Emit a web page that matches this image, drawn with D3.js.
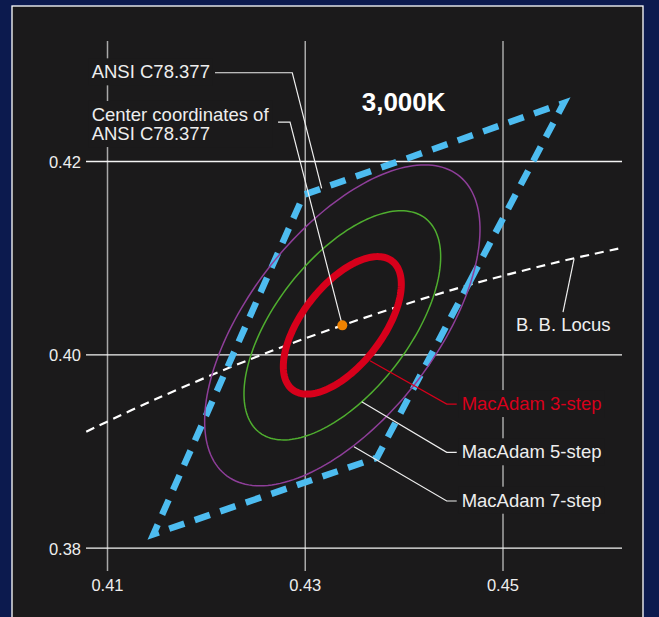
<!DOCTYPE html>
<html>
<head>
<meta charset="utf-8">
<script src="https://cdn.jsdelivr.net/npm/d3@7"></script>
<style>
  html, body { margin: 0; padding: 0; background: #0c1a4e; }
  svg { display: block; }
  text { font-family: "Liberation Sans", Arial, Helvetica, sans-serif; }
</style>
</head>
<body>
<script>
// ---------------- data ----------------
const xTicks = [0.41, 0.43, 0.45];
const yTicks = [0.38, 0.40, 0.42];
const xTickLabels = ["0.41", "0.43", "0.45"];
const yTickLabels = ["0.38", "0.40", "0.42"];

// ANSI C78.377 3,000K centre and quadrangle (CIE x, y)
const ansiCenter = [0.4338, 0.4030];
const ansiQuadX = [0.4562, 0.4299, 0.4147, 0.4373];
const ansiQuadY = [0.4260, 0.4165, 0.3814, 0.3893];

// MacAdam ellipses (semi axes, rotation in degrees)
const macSteps = ["MacAdam 3-step", "MacAdam 5-step", "MacAdam 7-step"];
const macA = [0.00834, 0.01390, 0.01946];
const macB = [0.00408, 0.00680, 0.00952];
const macTheta = [53.22, 53.22, 53.22];

// Black body (Planckian) locus
const locusX = [0.4079, 0.4150, 0.4250, 0.4338, 0.4450, 0.4550, 0.4620];
const locusY = [0.3920, 0.3954, 0.3997, 0.4030, 0.4067, 0.4094, 0.4110];

// annotation anchors (data coordinates)
const ansiLeader = [[0.42092, 0.42913], [0.42874, 0.42913], [0.43171, 0.41716]];
const centerLeader = [[0.42730, 0.42403], [0.42851, 0.42403], [0.4338, 0.4030]];
const macLeaders = [
  [[0.43660, 0.39934], [0.44436, 0.39486], [0.44537, 0.39486]],
  [[0.43576, 0.39510], [0.44436, 0.38987], [0.44537, 0.38987]],
  [[0.43498, 0.39045], [0.44436, 0.38483], [0.44537, 0.38483]]
];
const macLabelAt = [[0.44587, 0.39424], [0.44587, 0.38925], [0.44587, 0.38424]];
const locusLeader = [[0.45723, 0.40986], [0.45612, 0.40438]];
const locusLabelAt = [0.45615, 0.40245];
const titleAt = [0.4400, 0.42522];
const ansiLabelAt = [0.40845, 0.42855];
const centerLabelAt = [[0.40845, 0.42414], [0.40845, 0.42217]];

// ---------------- layout ----------------
const W = 659, H = 617;
const plotL = 86, plotR = 622, plotT = 41, plotB = 571;
const C = {
  navy: "#0c1a4e", panel: "#1b1a1b", text: "#eeeeee",
  blue: "#4dbcf0", red: "#d7001b", green: "#4fae2f", purple: "#8e3e99",
  orange: "#ef8200", vgrid: "#a9a9a9", hgrid: "#f4f4f4"
};

const x = d3.scaleLinear().domain([0.41, 0.45]).range([107, 502.5]);
const y = d3.scaleLinear().domain([0.38, 0.42]).range([547.7, 161]);

const svg = d3.select("body").append("svg").attr("width", W).attr("height", H);
svg.append("rect").attr("width", W).attr("height", H).attr("fill", C.navy);
svg.append("rect").attr("x", 12).attr("y", 6).attr("width", 631).attr("height", 640)
  .attr("fill", C.panel).attr("stroke", "#ffffff").attr("stroke-width", 1.3);

// grid via axes
const gx = svg.append("g").attr("transform", `translate(0,${plotB})`)
  .call(d3.axisBottom(x).tickValues(xTicks).tickFormat((d, i) => xTickLabels[i])
    .tickSize(-(plotB - plotT)).tickPadding(8));
gx.select(".domain").remove();
gx.selectAll("line").attr("stroke", C.vgrid).attr("stroke-width", 1.5);
gx.selectAll("text").attr("fill", C.text).attr("font-size", "16.5px");

const gy = svg.append("g").attr("transform", `translate(${plotL},0)`)
  .call(d3.axisLeft(y).tickValues(yTicks).tickFormat((d, i) => yTickLabels[i])
    .tickSize(-(plotR - plotL)).tickPadding(5));
gy.select(".domain").remove();
gy.selectAll("line").attr("stroke", C.hgrid).attr("stroke-width", 1.3);
gy.selectAll("text").attr("fill", C.text).attr("font-size", "16.5px").attr("dy", "0.39em");

// locus
const locus = locusX.map((v, i) => [v, locusY[i]]);
svg.append("path").datum(locus)
  .attr("d", d3.line().x(d => x(d[0])).y(d => y(d[1])).curve(d3.curveCatmullRom))
  .attr("fill", "none").attr("stroke", "#ffffff").attr("stroke-width", 2.2)
  .attr("stroke-dasharray", "9 6");

// quadrangle: start mid right edge, go round
const q = ansiQuadX.map((v, i) => [v, ansiQuadY[i]]);
const mid = [(q[3][0] + q[0][0]) / 2, (q[3][1] + q[0][1]) / 2];
const quadPath = [mid, q[0], q[1], q[2], q[3], mid];
svg.append("path").datum(quadPath)
  .attr("d", d3.line().x(d => x(d[0])).y(d => y(d[1])))
  .attr("fill", "none").attr("stroke", C.blue).attr("stroke-width", 6.5)
  .attr("stroke-dasharray", "16 11").attr("stroke-linejoin", "miter")
  .attr("stroke-miterlimit", 10);

// ellipses
function ellipsePoints(a, b, deg) {
  const th = deg * Math.PI / 180, ct = Math.cos(th), st = Math.sin(th);
  return d3.range(0, 360, 2).map(t => {
    const r = t * Math.PI / 180, ex = a * Math.cos(r), ey = b * Math.sin(r);
    return [ansiCenter[0] + ex * ct - ey * st, ansiCenter[1] + ex * st + ey * ct];
  });
}
const ellColors = [C.red, C.green, C.purple];
const ellWidths = [7, 1.5, 1.5];
[2, 1, 0].forEach(i => {
  svg.append("path").datum(ellipsePoints(macA[i], macB[i], macTheta[i]))
    .attr("d", d3.line().x(d => x(d[0])).y(d => y(d[1])).curve(d3.curveLinearClosed))
    .attr("fill", "none").attr("stroke", ellColors[i]).attr("stroke-width", ellWidths[i]);
});

// leaders
const lineGen = d3.line().x(d => x(d[0])).y(d => y(d[1]));
function leader(pts, color) {
  svg.append("path").datum(pts).attr("d", lineGen).attr("fill", "none")
    .attr("stroke", color).attr("stroke-width", 1.2);
}
leader(ansiLeader, C.text);
leader(centerLeader, C.text);
macLeaders.forEach((p, i) => leader(p, i === 0 ? C.red : C.text));
leader(locusLeader, C.text);

// centre dot
svg.append("circle").attr("cx", x(ansiCenter[0])).attr("cy", y(ansiCenter[1]))
  .attr("r", 5).attr("fill", C.orange);

// labels with background
function label(lines, at, color, opts = {}) {
  const g = svg.append("g");
  const bg = g.append("rect").attr("fill", C.panel);
  const t = g.append("g");
  lines.forEach((s, i) => {
    t.append("text").attr("x", x(at[i][0])).attr("y", y(at[i][1]))
      .attr("fill", color).attr("font-size", opts.size || "18.5px")
      .attr("font-weight", opts.weight || "normal")
      .attr("text-anchor", opts.anchor || "start").text(s);
  });
  if (opts.bg !== false) {
    const bb = t.node().getBBox();
    bg.attr("x", bb.x - 3).attr("y", bb.y - 3).attr("width", bb.width + 6).attr("height", bb.height + 6);
  } else bg.remove();
}
label(["ANSI C78.377"], [ansiLabelAt], C.text);
label(["Center coordinates of", "ANSI C78.377"], centerLabelAt, C.text);
label(["3,000K"], [titleAt], "#ffffff", { size: "26px", weight: "bold", anchor: "middle", bg: false });
label(["B. B. Locus"], [locusLabelAt], C.text, { anchor: "middle", bg: false });
macSteps.forEach((s, i) => label([s], [macLabelAt[i]], i === 0 ? C.red : C.text));
</script>
</body>
</html>
